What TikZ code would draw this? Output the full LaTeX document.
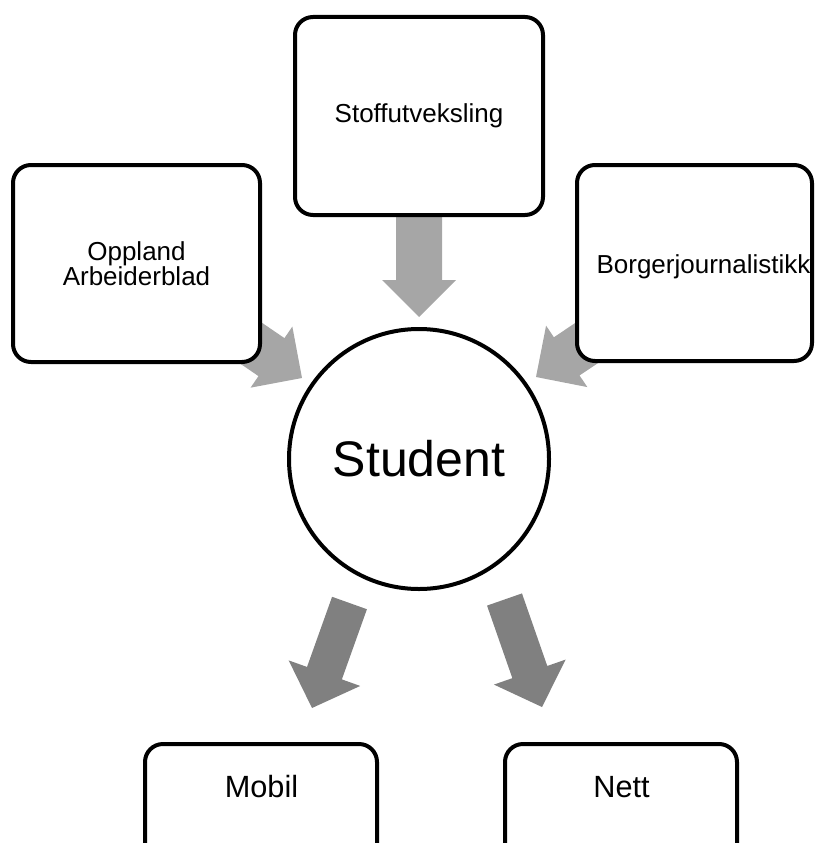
\documentclass[tikz,border=0pt]{standalone}
\usepackage{fontspec}
\setmainfont{Liberation Sans}
\usetikzlibrary{calc}
\definecolor{lgray}{HTML}{A6A6A6}
\definecolor{dgray}{HTML}{808080}
% #1 name prefix, #2 colour, #3 shaft half width, #4 head half width, #5 head length
\newcommand\myarrow[5]{%
  \coordinate (#1-h) at ($(#1-e)!#5!(#1-s)$);
  \fill[#2] ($(#1-s)!#3!90:(#1-e)$) -- ($(#1-h)!#3!-90:(#1-s)$) -- ($(#1-h)!#4!-90:(#1-s)$)
    -- (#1-e) -- ($(#1-h)!#4!90:(#1-s)$) -- ($(#1-h)!#3!90:(#1-s)$) -- ($(#1-s)!#3!-90:(#1-e)$) -- cycle;}
\begin{document}
\begin{tikzpicture}[x=1pt,y=-1pt,
  box/.style={draw=black, line width=4pt, fill=white, rounded corners=18pt, inner sep=0pt},
  toptext/.style={font=\fontsize{26}{24.5}\selectfont, align=center},
  bottext/.style={font=\fontsize{30.7}{36}\selectfont, anchor=base}]
\useasboundingbox (0,0) rectangle (816,843);
% arrow end points
\coordinate (t-s) at (419,200);     \coordinate (t-e) at (419,317);
\coordinate (l-s) at (219.5,321.6); \coordinate (l-e) at (302,378);
\coordinate (r-s) at (618.5,321.6); \coordinate (r-e) at (536,377);
\coordinate (bl-s) at (349.5,603);  \coordinate (bl-e) at (312,708);
\coordinate (br-s) at (504.5,599.5);\coordinate (br-e) at (542,707);
\myarrow{t}{lgray}{23pt}{37pt}{37pt}
\myarrow{l}{lgray}{23pt}{37pt}{37pt}
\myarrow{r}{lgray}{23pt}{37pt}{37pt}
\myarrow{bl}{dgray}{18.5pt}{38pt}{37pt}
\myarrow{br}{dgray}{18.5pt}{38pt}{37pt}
% boxes
\node[box, toptext, minimum width=248pt, minimum height=198pt] (stoff) at (419,116) {Stoffutveksling};
\node[box, toptext, minimum width=247pt, minimum height=197pt] (oppland) at (136.5,263.5) {Oppland\\Arbeiderblad};
\node[box, minimum width=235pt, minimum height=196pt] (borger) at (694.5,263) {};
\node[toptext, anchor=base] (borgertext) at (703.5,273) {Borgerjournalistikk};
\node[draw=black, line width=4pt, fill=white, circle, minimum size=260pt, inner sep=0pt,
  font=\fontsize{50}{60}\selectfont] (student) at (419,459) {Student};
\node[box, minimum width=232pt, minimum height=197pt] (mobil) at (261,842.5) {};
\node[box, minimum width=232pt, minimum height=197pt] (nett) at (621,842.5) {};
\node[bottext] (mobiltext) at (261.5,797.7) {Mobil};
\node[bottext] (netttext) at (621.5,797.7) {Nett};
\end{tikzpicture}
\end{document}
